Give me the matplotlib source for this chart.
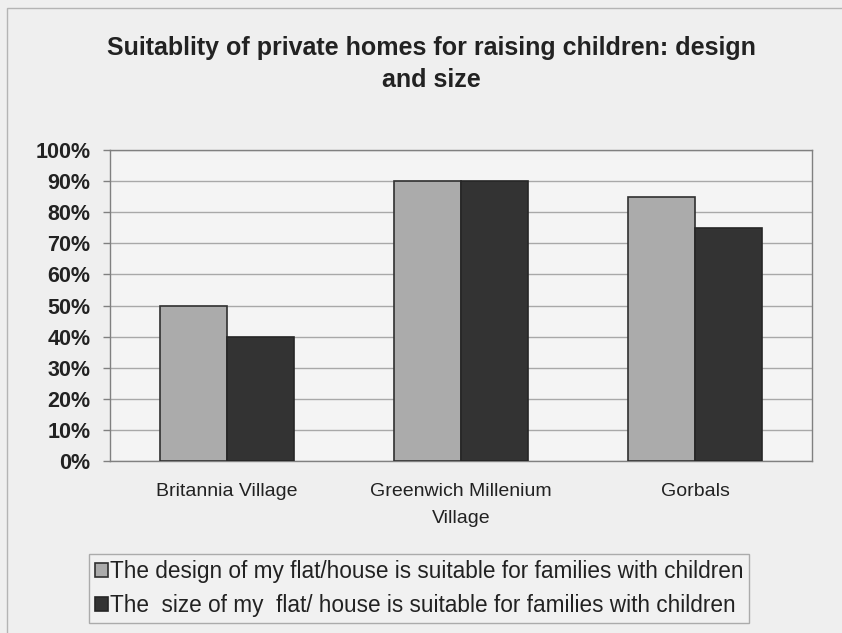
import matplotlib
matplotlib.use("Agg")
import matplotlib.pyplot as plt
import numpy as np
from matplotlib.ticker import FuncFormatter, MultipleLocator
from matplotlib.patches import Rectangle

plt.rcParams['font.family'] = ['Liberation Sans', 'DejaVu Sans']

categories = ["Britannia Village", "Greenwich Millenium\nVillage", "Gorbals"]
design_values = [50, 90, 85]
size_values = [40, 90, 75]
series_labels = [
    "The design of my flat/house is suitable for families with children",
    "The  size of my  flat/ house is suitable for families with children",
]
title = "Suitablity of private homes for raising children: design\nand size"

fig = plt.figure(figsize=(8.42, 6.33), dpi=100)
fig.patch.set_facecolor('#efefef')

# outer chart frame
fig.add_artist(Rectangle((7 / 842, -0.05), 1.2, 1 - 8 / 633 + 0.05,
                         transform=fig.transFigure, fill=False,
                         edgecolor='#b4b4b4', linewidth=1.0))

ax = fig.add_axes([110 / 842, 1 - 461 / 633, (812 - 110) / 842, (461 - 150) / 633])
ax.set_facecolor('#f4f4f4')

x = np.arange(len(categories))
w = 67 / 234
ax.bar(x - w / 2, design_values, width=w, color='#ababab', edgecolor='#303030',
       linewidth=1.2, label=series_labels[0], zorder=3)
ax.bar(x + w / 2, size_values, width=w, color='#333333', edgecolor='#262626',
       linewidth=1.2, label=series_labels[1], zorder=3)

ax.set_xlim(-0.5, len(categories) - 0.5)
ax.set_ylim(0, 100)
ax.yaxis.set_major_locator(MultipleLocator(10))
ax.yaxis.set_major_formatter(FuncFormatter(lambda v, p: f"{int(v)}%"))
ax.grid(axis='y', color='#a8a8a8', linewidth=1.0, zorder=0)
ax.set_axisbelow(True)

for s in ax.spines.values():
    s.set_color('#808080')
    s.set_linewidth(1.0)

ax.tick_params(axis='y', length=5, width=1, color='#808080', pad=9,
               labelsize=15.5)
for t in ax.get_yticklabels():
    t.set_fontweight('bold')
    t.set_color('#222222')
ax.set_xticks(x)
ax.set_xticklabels(categories, fontsize=14, color='#222222', linespacing=1.73)
ax.tick_params(axis='x', length=0, pad=16)

fig.text(431 / 842, 1 - 64 / 633, title, ha='center', va='center', fontsize=18,
         fontweight='bold', color='#222222', linespacing=1.39)

leg = fig.legend(loc='center', bbox_to_anchor=(419 / 842, 1 - 588.5 / 633),
                 fontsize=16.3, frameon=True, fancybox=False, handlelength=0.57,
                 handleheight=0.6, handletextpad=0.1, labelspacing=0.51,
                 borderpad=0.25, borderaxespad=0)
leg.get_frame().set_edgecolor('#9a9a9a')
leg.get_frame().set_facecolor('#f2f2f2')
leg.get_frame().set_linewidth(1.0)
for t in leg.get_texts():
    t.set_color('#222222')

fig.savefig('out.png', dpi=100, facecolor=fig.get_facecolor())
